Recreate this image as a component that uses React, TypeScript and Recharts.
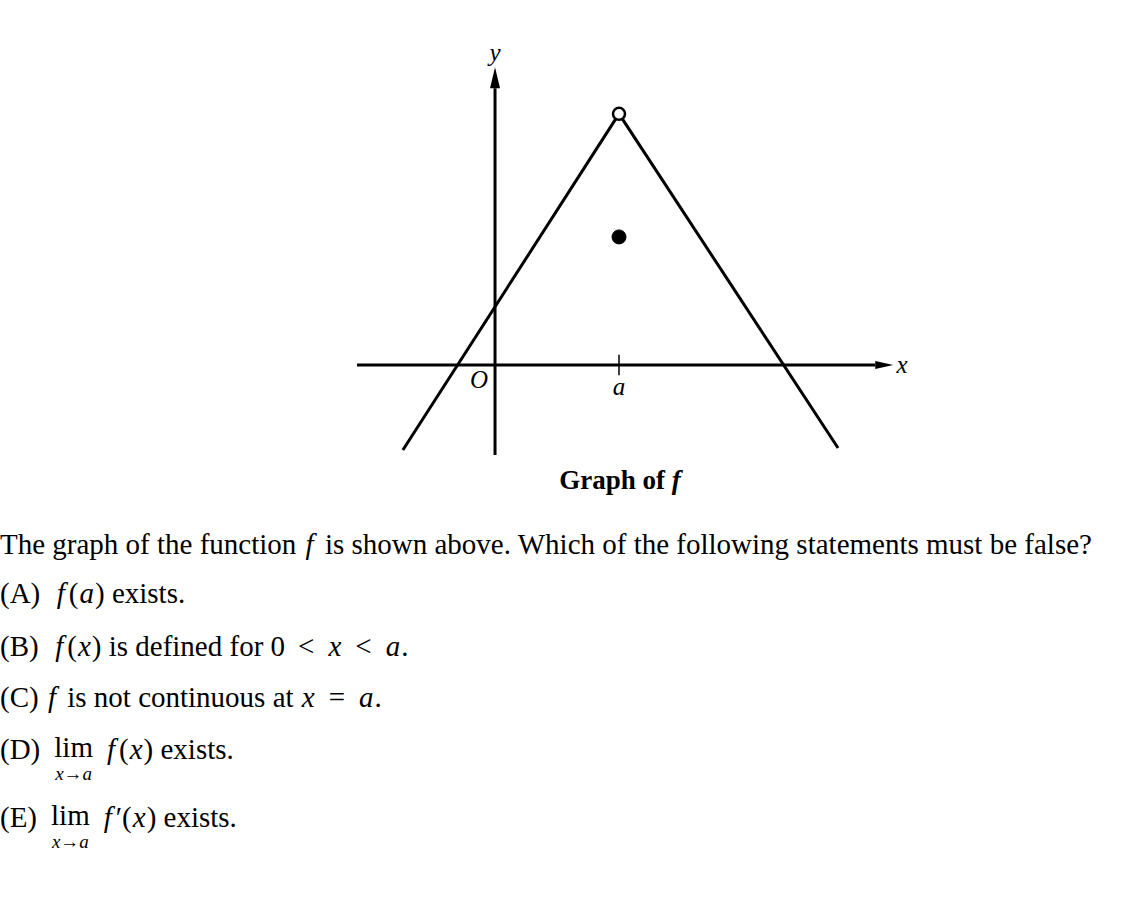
import React from "react";
import {
  ComposedChart,
  Line,
  XAxis,
  YAxis,
  ReferenceLine,
  ReferenceDot,
} from "recharts";

// ---- data ----
const fX = [-2.23, 3, 8.3];
const fY = [-2.06, 6.08, -2.01];
const holePoint = { x: 3, y: 6.08 };
const valuePoint = { x: 3, y: 3.1 };
const xDomain: [number, number] = [-3.34, 9.63];
const yDomain: [number, number] = [-2.18, 7.19];
const tickA = 3;
const axisArrowX = 9.2; // base of x arrow
const axisArrowY = 6.7; // base of y arrow

const fData = fX.map((x, i) => ({ x, y: fY[i] }));

const serif = '"Liberation Serif", "Times New Roman", Times, serif';

const TextMark = (txt: string, dx: number, dy: number, size = 25) => (props: any) => (
  <text
    x={props.cx + dx}
    y={props.cy + dy}
    textAnchor="middle"
    dominantBaseline="central"
    fontFamily={serif}
    fontStyle="italic"
    fontSize={size}
    fill="#000"
  >
    {txt}
  </text>
);

const UpArrow = (props: any) => {
  const { cx, cy } = props;
  return (
    <polygon
      points={`${cx},${cy - 21} ${cx - 5},${cy} ${cx + 5},${cy}`}
      fill="#000"
    />
  );
};

const RightArrow = (props: any) => {
  const { cx, cy } = props;
  return (
    <polygon
      points={`${cx + 18},${cy} ${cx},${cy - 4} ${cx},${cy + 4}`}
      fill="#000"
    />
  );
};

const FS = 29;

const lineStyle: React.CSSProperties = {
  position: "absolute",
  left: 0,
  fontFamily: serif,
  fontSize: FS,
  lineHeight: `${FS}px`,
  whiteSpace: "nowrap",
  color: "#000",
};

const F = ({ children }: { children: React.ReactNode }) => (
  <i style={{ marginRight: 4, marginLeft: 2 }}>{children}</i>
);
const V = ({ children }: { children: React.ReactNode }) => <i style={{ margin: "0 1px" }}>{children}</i>;
const Op = ({ children }: { children: React.ReactNode }) => (
  <span style={{ margin: "0 13px" }}>{children}</span>
);

const Lim = () => (
  <span
    style={{
      display: "inline-flex",
      flexDirection: "column",
      alignItems: "center",
      verticalAlign: "top",
      lineHeight: "25px",
      margin: "0 12px 0 14px",
    }}
  >
    <span>lim</span>
    <span style={{ fontStyle: "italic", fontSize: 19, lineHeight: "19px", marginTop: 4 }}>
      x→a
    </span>
  </span>
);

export default function App() {
  return (
    <div style={{ position: "relative", width: 1135, height: 915, background: "#fff" }}>
      <style>{`body{margin:0;background:#fff}`}</style>
      <ComposedChart
        width={1135}
        height={915}
        data={fData}
        margin={{ top: 68, right: 242, bottom: 460, left: 357 }}
        style={{ position: "absolute", left: 0, top: 0 }}
      >
        <XAxis type="number" dataKey="x" domain={xDomain} hide allowDataOverflow />
        <YAxis type="number" dataKey="y" domain={yDomain} hide allowDataOverflow />
        {/* x axis */}
        <ReferenceLine
          segment={[{ x: xDomain[0], y: 0 }, { x: axisArrowX, y: 0 }]}
          stroke="#000"
          strokeWidth={3}
          ifOverflow="visible"
        />
        {/* y axis */}
        <ReferenceLine
          segment={[{ x: 0, y: yDomain[0] }, { x: 0, y: axisArrowY }]}
          stroke="#000"
          strokeWidth={3}
          ifOverflow="visible"
        />
        {/* tick at a */}
        <ReferenceLine
          segment={[{ x: tickA, y: -0.25 }, { x: tickA, y: 0.25 }]}
          stroke="#000"
          strokeWidth={1.5}
          ifOverflow="visible"
        />
        <ReferenceDot x={axisArrowX} y={0} r={0} ifOverflow="visible" shape={RightArrow} />
        <ReferenceDot x={0} y={axisArrowY} r={0} ifOverflow="visible" shape={UpArrow} />
        <Line
          type="linear"
          dataKey="y"
          stroke="#000"
          strokeWidth={3}
          dot={false}
          activeDot={false}
          isAnimationActive={false}
        />
        <ReferenceDot
          x={holePoint.x}
          y={holePoint.y}
          r={6}
          fill="#fff"
          stroke="#000"
          strokeWidth={2.5}
          ifOverflow="visible"
        />
        <ReferenceDot
          x={valuePoint.x}
          y={valuePoint.y}
          r={7}
          fill="#000"
          stroke="#000"
          ifOverflow="visible"
        />
        {/* labels */}
        <ReferenceDot x={0} y={yDomain[1]} r={0} ifOverflow="visible" shape={TextMark("y", 0, -16)} />
        <ReferenceDot x={xDomain[1]} y={0} r={0} ifOverflow="visible" shape={TextMark("x", 9, 0)} />
        <ReferenceDot x={0} y={0} r={0} ifOverflow="visible" shape={TextMark("O", -16, 15)} />
        <ReferenceDot x={tickA} y={0} r={0} ifOverflow="visible" shape={TextMark("a", 0, 22)} />
      </ComposedChart>

      <div
        style={{
          ...lineStyle,
          left: 500,
          width: 240,
          textAlign: "center",
          top: 467,
          fontWeight: "bold",
          fontSize: 27,
          lineHeight: "27px",
        }}
      >
        Graph of <i>f</i>
      </div>

      <div style={{ ...lineStyle, top: 530 }}>
        The graph of the function <F>f</F> is shown above. Which of the following statements must be false?
      </div>
      <div style={{ ...lineStyle, top: 579 }}>
        (A)&nbsp; <F>f</F>(<V>a</V>) exists.
      </div>
      <div style={{ ...lineStyle, top: 632 }}>
        (B)&nbsp; <F>f</F>(<V>x</V>) is defined for 0<Op>&lt;</Op><V>x</V><Op>&lt;</Op><V>a</V>.
      </div>
      <div style={{ ...lineStyle, top: 683 }}>
        (C) <F>f</F> is not continuous at <V>x</V><Op>=</Op><V>a</V>.
      </div>
      <div style={{ ...lineStyle, top: 735 }}>
        (D)<Lim /><F>f</F>(<V>x</V>) exists.
      </div>
      <div style={{ ...lineStyle, top: 803 }}>
        (E)<Lim /><F>f</F>′(<V>x</V>) exists.
      </div>
    </div>
  );
}
